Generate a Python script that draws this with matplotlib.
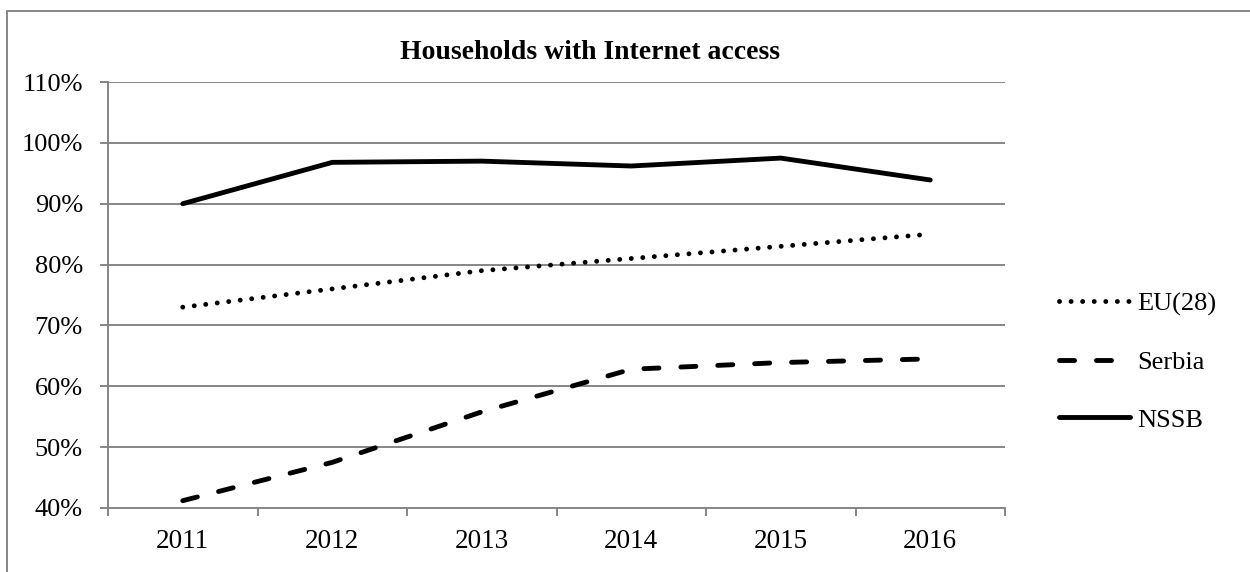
import matplotlib
matplotlib.use('Agg')
import matplotlib.pyplot as plt
from matplotlib.lines import Line2D
from matplotlib.ticker import FuncFormatter, FixedLocator

plt.rcParams['font.family'] = ['Liberation Serif', 'DejaVu Serif']

years = ['2011', '2012', '2013', '2014', '2015', '2016']
eu28 = [73.0, 76.0, 79.0, 81.0, 83.0, 85.0]
serbia = [41.2, 47.5, 55.8, 62.8, 63.9, 64.5]
nssb = [90.0, 96.8, 97.0, 96.2, 97.5, 93.9]

GRID = '#868686'
LW = 3.5

fig = plt.figure(figsize=(12.5, 5.72), dpi=100)
ax = fig.add_axes([0.0864, 0.1119, 0.7176, 0.7447])

x = list(range(len(years)))
ax.plot(x, eu28, color='black', lw=LW, linestyle=(0, (0.01, 2.37)),
        dash_capstyle='round', label='EU(28)')
ax.plot(x, serbia, color='black', lw=LW, linestyle=(0, (3.1, 4.5)),
        dash_capstyle='round', label='Serbia')
ax.plot(x, nssb, color='black', lw=LW, solid_capstyle='round', label='NSSB')

ax.set_xlim(-0.5, len(years) - 0.5)
ax.set_ylim(40, 110)
ax.set_yticks(range(40, 111, 10))
ax.yaxis.set_major_formatter(FuncFormatter(lambda v, p: f'{int(v)}%'))
ax.grid(axis='y', color=GRID, lw=1.4)
ax.set_axisbelow(True)

# category labels at centres, tick marks between categories
ax.xaxis.set_major_locator(FixedLocator([i - 0.5 for i in range(len(years) + 1)]))
ax.set_xticklabels([])
ax.set_xticks(x, minor=True)
ax.set_xticklabels(years, minor=True)
ax.tick_params(axis='x', which='major', direction='out', length=6, width=1.4, color=GRID)
ax.tick_params(axis='x', which='minor', length=0, pad=15, labelsize=19.5)
ax.tick_params(axis='y', direction='out', length=6, width=1.4, color=GRID, pad=12, labelsize=19)

for s in ['top', 'right']:
    ax.spines[s].set_visible(False)
for s in ['left', 'bottom']:
    ax.spines[s].set_color(GRID)
    ax.spines[s].set_linewidth(1.4)

leg = ax.legend(loc='center left', bbox_to_anchor=(1.034, 0.343), frameon=False,
                fontsize=19, handlelength=2.7, handletextpad=0.25, labelspacing=1.3)

fig.text(0.472, 0.909, 'Households with Internet access', ha='center', va='center',
         fontsize=20, fontweight='bold')

# outer chart border (left and top visible)
fig.add_artist(Line2D([7 / 1250, 7 / 1250], [0, 1 - 11 / 572], transform=fig.transFigure,
                      color=GRID, lw=1.4))
fig.add_artist(Line2D([7 / 1250, 1], [1 - 11 / 572, 1 - 11 / 572], transform=fig.transFigure,
                      color=GRID, lw=1.4))

fig.savefig('out.png', dpi=100, facecolor='white')
